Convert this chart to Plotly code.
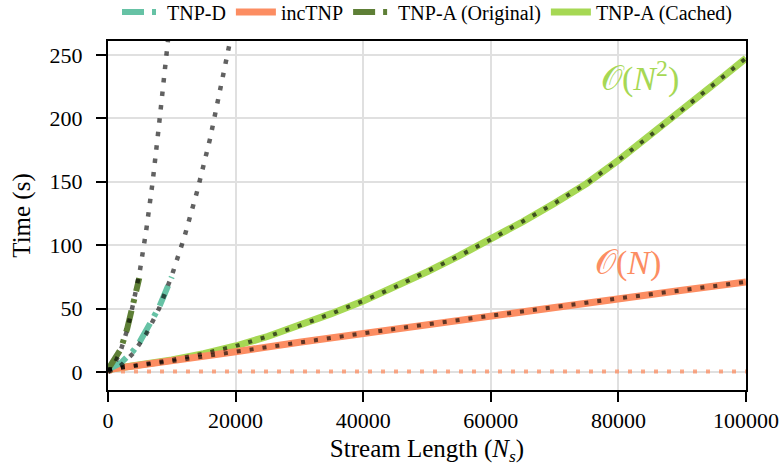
import plotly.graph_objects as go

# ---- data ----
tnpd_x = [0, 1000, 2000, 3000, 4000, 5000, 6000, 7000, 8000, 9000, 10000]
tnpd_y = [2, 4, 7, 12, 17, 24, 32, 42, 51, 62, 75]

tnpa_orig_x = [0, 1000, 2000, 3000, 4000, 4900]
tnpa_orig_y = [2, 9, 18, 34, 54, 74]

inc_x = [0, 10000, 20000, 30000, 40000, 50000, 60000, 70000, 80000, 90000, 100000]
inc_y = [2, 8.5, 16, 23.5, 30.5, 37.5, 44.5, 51, 58, 64.5, 71]

cached_x = [0, 5000, 10000, 15000, 20000, 25000, 30000, 35000, 40000, 45000, 50000,
            55000, 60000, 65000, 70000, 75000, 80000, 85000, 90000, 95000, 100000]
cached_y = [2, 5.5, 9.5, 14.5, 20.5, 28, 36.5, 46, 56, 67, 79,
            91.5, 104.5, 118.5, 133, 148.5, 167, 186.5, 206.5, 227, 247.5]

# fitted / extrapolated curves (dotted)
fit_n2_x = cached_x
fit_n2_y = [2, 5.5, 9.5, 14.5, 20.5, 28, 36.5, 46, 56, 67, 79,
            91.5, 104.5, 118.5, 133, 148.5, 167, 186.5, 206.5, 227, 247.5]
fit_n_x = inc_x
fit_n_y = [2, 8.5, 16, 23.5, 30.5, 37.5, 44.5, 51, 58, 64.5, 71]

extrap_a_x = [0, 1000, 2000, 3000, 4000, 5000, 6000, 7000, 8000, 9000, 10000]
extrap_a_y = [0, 6, 17, 33, 55, 80, 112, 150, 195, 240, 290]

extrap_d_x = [0, 2000, 4000, 6000, 8000, 10000, 12000, 14000, 16000, 18000, 20000]
extrap_d_y = [0, 5, 15, 30, 50, 76, 107, 143, 184, 231, 282]

base_x = [0, 10000, 20000, 30000, 40000, 50000, 60000, 70000, 80000, 90000, 100000]
base_y = [0.3, 0.3, 0.3, 0.3, 0.3, 0.3, 0.3, 0.3, 0.3, 0.3, 0.3]

x_ticks = [0, 20000, 40000, 60000, 80000, 100000]
y_ticks = [0, 50, 100, 150, 200, 250]

C_TEAL = "#66c2a5"
C_ORANGE = "#fc8d62"
C_DKGREEN = "#5e7f36"
C_LTGREEN = "#a6d854"
C_FIT = "rgba(0,0,0,0.62)"
FONT = "Liberation Serif"

fig = go.Figure()

fig.add_trace(go.Scatter(x=base_x, y=base_y, mode="lines", showlegend=False,
                         line=dict(color="rgba(252,141,98,0.75)", width=4, dash="4px,9px")))
fig.add_trace(go.Scatter(x=cached_x, y=cached_y, mode="lines", name="TNP-A (Cached)",
                         legendrank=4, line=dict(color=C_LTGREEN, width=7)))
fig.add_trace(go.Scatter(x=inc_x, y=inc_y, mode="lines", name="incTNP",
                         legendrank=2, line=dict(color=C_ORANGE, width=7)))
fig.add_trace(go.Scatter(x=tnpd_x, y=tnpd_y, mode="lines", name="TNP-D",
                         legendrank=1, line=dict(color=C_TEAL, width=6, dash="22px,8px,4px,8px")))
fig.add_trace(go.Scatter(x=tnpa_orig_x, y=tnpa_orig_y, mode="lines", name="TNP-A (Original)",
                         legendrank=3, line=dict(color=C_DKGREEN, width=6, dash="22px,8px,4px,8px")))

for fx, fy in [(fit_n2_x, fit_n2_y), (fit_n_x, fit_n_y)]:
    fig.add_trace(go.Scatter(x=fx, y=fy, mode="lines", showlegend=False,
                             line=dict(color=C_FIT, width=4, dash="4px,9px")))
for fx, fy in [(extrap_a_x, extrap_a_y), (extrap_d_x, extrap_d_y)]:
    fig.add_trace(go.Scatter(x=fx, y=fy, mode="lines", showlegend=False,
                             line=dict(color=C_FIT, width=4.5, dash="4.5px,9px")))

fig.add_annotation(x=83400, y=233, xref="x", yref="y", showarrow=False,
                   text="𝒪(<i>N</i><sup>2</sup>)",
                   font=dict(family=FONT, size=34, color=C_LTGREEN))
fig.add_annotation(x=81500, y=86, xref="x", yref="y", showarrow=False,
                   text="𝒪(<i>N</i>)",
                   font=dict(family=FONT, size=34, color=C_ORANGE))

axis_common = dict(showline=True, linecolor="black", linewidth=2, mirror=True,
                   ticks="outside", ticklen=10, tickwidth=2, tickcolor="black",
                   showgrid=True, gridcolor="#e0e0e0", gridwidth=1.6, zeroline=False,
                   tickfont=dict(family=FONT, size=22, color="black"))

fig.update_xaxes(range=[0, 100000], tickvals=x_ticks, tickformat="d",
                 title=dict(text="Stream Length (<i>N<sub>s</sub></i>)",
                            font=dict(family=FONT, size=25, color="black"), standoff=16),
                 **axis_common)
fig.update_yaxes(range=[-14.2, 261], tickvals=y_ticks, ticklabelstandoff=9,
                 title=dict(text="Time (s)", font=dict(family=FONT, size=25, color="black"),
                            standoff=12),
                 **axis_common)

fig.update_layout(
    width=780, height=466,
    margin=dict(l=108, r=34, t=41, b=76, autoexpand=False),
    plot_bgcolor="white", paper_bgcolor="white",
    font=dict(family=FONT, color="black"),
    legend=dict(orientation="h", x=0.5, xanchor="center", y=1.083, yanchor="middle",
                font=dict(family=FONT, size=20, color="black"),
                bgcolor="rgba(0,0,0,0)", itemwidth=40, tracegroupgap=0),
)

fig.write_html("out.html", config={"displayModeBar": False},
               post_script="document.body.style.margin='0';document.body.style.padding='0';")
